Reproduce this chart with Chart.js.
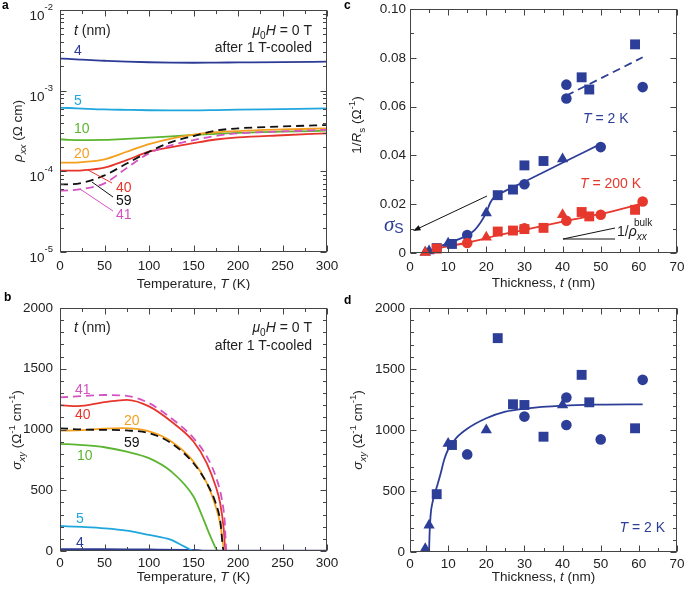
<!DOCTYPE html>
<html><head><meta charset="utf-8">
<script src="https://cdn.jsdelivr.net/npm/chart.js@4/dist/chart.umd.min.js"></script>
<style>
html,body{margin:0;padding:0;background:#fff;width:685px;height:589px;overflow:hidden}
canvas{position:absolute}
</style></head><body>
<canvas id="ca" style="left:0;top:0" width="340" height="290"></canvas>
<canvas id="cb" style="left:0;top:290px" width="340" height="299"></canvas>
<canvas id="cc" style="left:340px;top:0" width="345" height="290"></canvas>
<canvas id="cd" style="left:340px;top:290px" width="345" height="299"></canvas>
<script>
// ---------- Panel a: rho_xx vs T (log) ----------
const tempA   = [0, 10, 25, 50, 75, 100, 125, 150, 175, 200, 250, 300];
const rhoA_4  = [2.50e-3, 2.48e-3, 2.42e-3, 2.35e-3, 2.29e-3, 2.25e-3, 2.23e-3, 2.22e-3, 2.23e-3, 2.24e-3, 2.26e-3, 2.29e-3];
const rhoA_5  = [6.15e-4, 6.10e-4, 6.00e-4, 5.85e-4, 5.78e-4, 5.72e-4, 5.70e-4, 5.70e-4, 5.75e-4, 5.82e-4, 5.92e-4, 6.04e-4];
const rhoA_10 = [2.49e-4, 2.46e-4, 2.44e-4, 2.45e-4, 2.52e-4, 2.62e-4, 2.72e-4, 2.82e-4, 2.92e-4, 3.00e-4, 3.10e-4, 3.19e-4];
const rhoA_20 = [1.28e-4, 1.28e-4, 1.30e-4, 1.41e-4, 1.75e-4, 2.18e-4, 2.55e-4, 2.85e-4, 3.05e-4, 3.16e-4, 3.30e-4, 3.41e-4];
const rhoA_40 = [1.02e-4, 1.02e-4, 1.03e-4, 1.11e-4, 1.38e-4, 1.75e-4, 2.00e-4, 2.24e-4, 2.48e-4, 2.64e-4, 2.80e-4, 2.96e-4];
const rhoA_59 = [6.9e-5, 6.9e-5, 7.2e-5, 8.9e-5, 1.25e-4, 1.75e-4, 2.30e-4, 2.74e-4, 3.20e-4, 3.41e-4, 3.60e-4, 3.75e-4];
const rhoA_41 = [5.75e-5, 5.8e-5, 6.04e-5, 7.1e-5, 1.10e-4, 1.67e-4, 2.10e-4, 2.44e-4, 2.75e-4, 2.96e-4, 3.12e-4, 3.28e-4];
const logTickExps = [-2, -3, -4, -5];

// ---------- Panel b: sigma_xy vs T ----------
const sigT_41 = [0, 25, 50, 75, 100, 125, 150, 165, 175, 182, 185, 187, 300];
const sig_41  = [1264, 1275, 1284, 1277, 1217, 1093, 929, 777, 613, 420, 250, 0, 0];
const sigT_40 = [0, 20, 50, 75, 100, 125, 150, 165, 175, 180, 184, 186, 300];
const sig_40  = [1200, 1192, 1225, 1244, 1190, 1066, 901, 722, 530, 393, 180, 0, 0];
const sigT_20 = [0, 25, 50, 70, 100, 125, 150, 165, 175, 180, 185, 300];
const sig_20  = [990, 995, 1008, 1011, 984, 901, 736, 558, 365, 228, 0, 0];
const sigT_59 = [0, 25, 50, 75, 100, 125, 150, 165, 175, 180, 184, 300];
const sig_59  = [1010, 1000, 997, 992, 970, 887, 722, 558, 393, 250, 0, 0];
const sigT_10 = [0, 25, 50, 75, 100, 125, 150, 160, 170, 178, 300];
const sig_10  = [882, 872, 854, 818, 764, 654, 448, 283, 104, 0, 0];
const sigT_5  = [0, 25, 50, 75, 100, 125, 140, 152, 300];
const sig_5   = [206, 198, 187, 168, 132, 91, 36, 0, 0];
const sigT_4  = [0, 50, 100, 150, 160, 300];
const sig_4   = [12, 11, 9, 6, 0, 0];

// ---------- Panel c: 1/Rs vs thickness ----------
const cBlueSqT  = [7, 11, 23, 27, 30, 35, 45, 47, 59];
const cBlueSqV  = [0.002, 0.0037, 0.0237, 0.026, 0.0359, 0.0377, 0.072, 0.067, 0.0855];
const cBlueCirT = [15, 30, 41, 41, 50, 61];
const cBlueCirV = [0.0074, 0.0282, 0.069, 0.0633, 0.0434, 0.068];
const cBlueTriT = [4, 5, 10, 20, 40];
const cBlueTriV = [0.0003, 0.0008, 0.004, 0.0164, 0.0385];
const cRedSqT   = [7, 23, 27, 30, 35, 45, 47, 59];
const cRedSqV   = [0.0018, 0.0088, 0.0092, 0.0098, 0.0103, 0.0168, 0.015, 0.0177];
const cRedCirT  = [15, 30, 41, 50, 61];
const cRedCirV  = [0.0041, 0.0101, 0.0132, 0.0157, 0.0211];
const cRedTriT  = [4, 20, 40];
const cRedTriV  = [0.0002, 0.0065, 0.0157];
const cBlueFitT = [4, 7, 10, 13, 15, 17, 18.5, 20, 21, 22, 23, 30, 40, 50];
const cBlueFitV = [0.0, 0.0022, 0.004, 0.0058, 0.0072, 0.0095, 0.0125, 0.0165, 0.0205, 0.0228, 0.0238, 0.0292, 0.037, 0.0447];
const cBlueDashT = [41, 61];
const cBlueDashV = [0.0645, 0.0802];
const cRedFitT  = [3, 7, 15, 23, 30, 41, 50, 61];
const cRedFitV  = [0.0, 0.0018, 0.0042, 0.0072, 0.0095, 0.0132, 0.016, 0.0203];

// ---------- Panel d: sigma_xy vs thickness ----------
const dTriT = [4, 5, 10, 20, 40];
const dTriV = [27, 219, 890, 1000, 1205];
const dSqT  = [7, 11, 23, 27, 30, 35, 45, 47, 59];
const dSqV  = [474, 877, 1753, 1211, 1205, 945, 1452, 1227, 1014];
const dCirT = [15, 30, 41, 41, 50, 61];
const dCirV = [800, 1110, 1266, 1041, 923, 1411];
const dFitT = [5, 5.1, 5.4, 6, 7, 8, 9, 10, 12, 15, 20, 25, 30, 40, 50, 61];
const dFitV = [0, 120, 300, 420, 530, 640, 760, 840, 930, 1010, 1096, 1150, 1175, 1200, 1208, 1210];

// ---------- styling ----------
const FAM = '"Liberation Sans", Arial, Helvetica, sans-serif';
const SERIF = '"Liberation Serif", "Times New Roman", serif';
const TXT = '#222';
const C4 = '#2c3b95', C5 = '#1fa6dd', C10 = '#5cb531', C20 = '#f59f1f', C40 = '#e7352c', C59 = '#111', C41 = '#d552c3';
const BLUE = '#2d3e98', RED = '#e6382d';

function pts(xs, ys){ return xs.map((x, i) => ({x: x, y: ys[i]})); }
function lineDS(xs, ys, color, dash, order, width){
  return {data: pts(xs, ys), showLine: true, borderColor: color, borderWidth: width || 1.8,
    borderDash: dash ? [8, 5] : [], pointRadius: 0, cubicInterpolationMode: 'monotone', order: order, fill: false};
}
function markDS(xs, ys, color, style, r, order){
  return {data: pts(xs, ys), showLine: false, pointStyle: style, pointRadius: r, pointBackgroundColor: color,
    pointBorderColor: color, pointBorderWidth: 0, order: order, clip: false};
}

function rich(ctx, parts, x, y, align, size, color){
  ctx.save();
  ctx.fillStyle = color; ctx.textBaseline = 'alphabetic';
  const font = p => { const s = p.size || ((p.sub || p.sup) ? size * 0.72 : size);
    return (p.i ? 'italic ' : '') + (p.b ? 'bold ' : '') + s + 'px ' + (p.serif ? SERIF : FAM); };
  let w = 0;
  parts.forEach(p => { ctx.font = font(p); p._w = ctx.measureText(p.t).width; w += p._w; });
  let cx = align === 'center' ? x - w / 2 : (align === 'right' ? x - w : x);
  const base = y + size * 0.36;
  parts.forEach(p => { ctx.font = font(p);
    const dy = (p.sub ? size * 0.28 : (p.sup ? -size * 0.42 : 0)) + (p.dy || 0);
    ctx.fillText(p.t, cx, base + dy); cx += p._w; });
  ctx.restore();
}
function line(ctx, x1, y1, x2, y2, color, w){
  ctx.save(); ctx.strokeStyle = color; ctx.lineWidth = w || 1; ctx.beginPath();
  ctx.moveTo(x1, y1); ctx.lineTo(x2, y2); ctx.stroke(); ctx.restore();
}
function vtitle(ctx, parts, x, y, size){
  ctx.save(); ctx.translate(x, y); ctx.rotate(-Math.PI / 2);
  rich(ctx, parts, 0, 0, 'center', size, TXT); ctx.restore();
}

function range(a, b, s){ const r = []; for (let v = a; v <= b + 1e-9; v += s) r.push(+v.toFixed(6)); return r; }

function frameTicks(cfg){
  return {id: 'frameTicks', afterDatasetsDraw(chart){
    const ctx = chart.ctx, a = chart.chartArea, sx = chart.scales.x, sy = chart.scales.y;
    ctx.save(); ctx.strokeStyle = '#444'; ctx.lineWidth = 1;
    const L = Math.round(a.left) + 0.5, R = Math.round(a.right) - 0.5, T = Math.round(a.top) + 0.5, B = Math.round(a.bottom) - 0.5;
    ctx.beginPath();
    const tx = (vals, len) => vals.forEach(v => { const p = Math.round(sx.getPixelForValue(v)) + 0.5;
      if (p < L - 1 || p > R + 1) return;
      ctx.moveTo(p, B); ctx.lineTo(p, B - len); ctx.moveTo(p, T); ctx.lineTo(p, T + len); });
    const ty = (vals, len) => vals.forEach(v => { const p = Math.round(sy.getPixelForValue(v)) + 0.5;
      if (p < T - 1 || p > B + 1) return;
      ctx.moveTo(L, p); ctx.lineTo(L + len, p); ctx.moveTo(R, p); ctx.lineTo(R - len, p); });
    tx(cfg.xMajor, 6); tx(cfg.xMinor, 3.5); ty(cfg.yMajor, 6); ty(cfg.yMinor, 3.5);
    ctx.stroke();
    ctx.strokeRect(L, T, R - L, B - T);
    ctx.restore();
  }};
}

function makeChart(id, off, size, area, xCfg, yCfg, datasets, frameCfg, annot){
  const tickFont = {family: FAM, size: 13.5};
  const x = Object.assign({type: 'linear', position: 'bottom'}, xCfg);
  x.grid = {display: false, drawTicks: false};
  x.border = {display: false};
  x.afterFit = s => { s.height = size.h - (area.b - off.y); s.paddingLeft = 0; s.paddingRight = 0; };
  x.ticks = Object.assign({font: tickFont, color: TXT, padding: 6, autoSkip: false, maxRotation: 0, callback: v => String(v)}, xCfg.ticks || {});
  const y = Object.assign({position: 'left'}, yCfg);
  y.grid = {display: false, drawTicks: false};
  y.border = {display: false};
  y.afterFit = s => { s.width = area.l - off.x; s.paddingTop = 0; s.paddingBottom = 0; };
  y.ticks = Object.assign({font: tickFont, color: TXT, autoSkip: false, callback: v => String(v)}, yCfg.ticks || {});
  return new Chart(document.getElementById(id), {
    type: 'scatter',
    data: {datasets: datasets},
    options: {
      responsive: false, animation: false, devicePixelRatio: 1, events: [],
      layout: {padding: {left: 0, top: area.t - off.y, right: off.x + size.w - area.r, bottom: 0}},
      plugins: {legend: {display: false}, tooltip: {enabled: false}},
      scales: {x: x, y: y}
    },
    plugins: [frameTicks(frameCfg), {id: 'annot', afterDraw(chart){
      const ctx = chart.ctx; ctx.save(); ctx.translate(-off.x, -off.y); annot(ctx, chart); ctx.restore(); }}]
  });
}

function panelLetter(ctx, s, x, y){ rich(ctx, [{t: s, b: 1}], x, y, 'left', 12, '#000'); }

// ---------- Panel a ----------
makeChart('ca', {x: 0, y: 0}, {w: 340, h: 290}, {l: 60, r: 327, t: 10, b: 252},
  {min: 0, max: 300, ticks: {stepSize: 50}},
  {type: 'logarithmic', min: 1e-5, max: 1e-2, ticks: {display: false}},
  [
    lineDS(tempA, rhoA_59, C59, true, 0),
    lineDS(tempA, rhoA_41, C41, true, 1),
    lineDS(tempA, rhoA_40, C40, false, 2),
    lineDS(tempA, rhoA_20, C20, false, 3),
    lineDS(tempA, rhoA_10, C10, false, 4),
    lineDS(tempA, rhoA_5, C5, false, 5),
    lineDS(tempA, rhoA_4, C4, false, 6)
  ],
  {xMajor: range(0, 300, 50), xMinor: range(25, 275, 50),
   yMajor: logTickExps.map(e => Math.pow(10, e)),
   yMinor: [-5, -4, -3].flatMap(e => [2,3,4,5,6,7,8,9].map(m => m * Math.pow(10, e)))},
  (ctx, chart) => {
    panelLetter(ctx, 'a', 2, 5);
    const sy = chart.scales.y;
    logTickExps.forEach(e => {
      const py = sy.getPixelForValue(Math.pow(10, e));
      ctx.save(); ctx.font = '9.5px ' + FAM; const sw = ctx.measureText(String(e)).width; ctx.restore();
      rich(ctx, [{t: '10'}], 53 - sw, py + 5, 'right', 13.5, TXT);
      rich(ctx, [{t: String(e), size: 9.5}], 53 - sw, py - 3, 'left', 9.5, TXT);
    });
    vtitle(ctx, [{t: 'ρ', i: 1}, {t: 'xx', i: 1, sub: 1}, {t: ' (Ω cm)'}], 17, 131, 13.5);
    rich(ctx, [{t: 'Temperature, '}, {t: 'T', i: 1}, {t: ' (K)'}], 193.5, 283, 'center', 13.5, TXT);
    rich(ctx, [{t: 't', i: 1}, {t: ' (nm)'}], 74, 30, 'left', 14, TXT);
    rich(ctx, [{t: 'μ', i: 1}, {t: '0', sub: 1}, {t: 'H', i: 1}, {t: ' = 0 T'}], 312, 30, 'right', 14, TXT);
    rich(ctx, [{t: 'after 1 T-cooled'}], 312, 47, 'right', 14, TXT);
    rich(ctx, [{t: '4'}], 74, 50, 'left', 14, C4);
    rich(ctx, [{t: '5'}], 74, 100, 'left', 14, C5);
    rich(ctx, [{t: '10'}], 74, 128, 'left', 14, C10);
    rich(ctx, [{t: '20'}], 74, 153, 'left', 14, C20);
    line(ctx, 88, 170, 112, 183, C40); rich(ctx, [{t: '40'}], 116, 187, 'left', 14, C40);
    line(ctx, 92, 182, 113, 197, C59); rich(ctx, [{t: '59'}], 116, 200, 'left', 14, C59);
    line(ctx, 80, 189, 113, 211, C41); rich(ctx, [{t: '41'}], 116, 214, 'left', 14, C41);
  });

// ---------- Panel b ----------
makeChart('cb', {x: 0, y: 290}, {w: 340, h: 299}, {l: 60, r: 327, t: 308, b: 551},
  {min: 0, max: 300, ticks: {stepSize: 50, padding: 4}},
  {type: 'linear', min: 0, max: 2000, ticks: {stepSize: 500, padding: 7}},
  [
    lineDS(sigT_10, sig_10, C10, false, 0),
    lineDS(sigT_59, sig_59, C59, true, 1),
    lineDS(sigT_41, sig_41, C41, true, 2),
    lineDS(sigT_40, sig_40, C40, false, 3),
    lineDS(sigT_20, sig_20, C20, false, 4),
    lineDS(sigT_5, sig_5, C5, false, 5),
    lineDS(sigT_4, sig_4, C4, false, 6, 2.6)
  ],
  {xMajor: range(0, 300, 50), xMinor: range(25, 275, 50), yMajor: range(0, 2000, 500), yMinor: range(100, 1900, 100)},
  (ctx) => {
    panelLetter(ctx, 'b', 4, 297);
    vtitle(ctx, [{t: 'σ', i: 1}, {t: 'xy', i: 1, sub: 1}, {t: ' (Ω'}, {t: '-1', sup: 1}, {t: ' cm'}, {t: '-1', sup: 1}, {t: ')'}], 16, 430, 13.5);
    rich(ctx, [{t: 'Temperature, '}, {t: 'T', i: 1}, {t: ' (K)'}], 193.5, 576, 'center', 13.5, TXT);
    rich(ctx, [{t: 't', i: 1}, {t: ' (nm)'}], 74, 327, 'left', 14, TXT);
    rich(ctx, [{t: 'μ', i: 1}, {t: '0', sub: 1}, {t: 'H', i: 1}, {t: ' = 0 T'}], 312, 327, 'right', 14, TXT);
    rich(ctx, [{t: 'after 1 T-cooled'}], 312, 345, 'right', 14, TXT);
    rich(ctx, [{t: '41'}], 75, 389, 'left', 14, C41);
    rich(ctx, [{t: '40'}], 75, 414, 'left', 14, C40);
    rich(ctx, [{t: '20'}], 124, 420, 'left', 14, C20);
    rich(ctx, [{t: '59'}], 124, 442, 'left', 14, C59);
    rich(ctx, [{t: '10'}], 77, 455, 'left', 14, C10);
    rich(ctx, [{t: '5'}], 76, 518, 'left', 14, C5);
    rich(ctx, [{t: '4'}], 76, 542, 'left', 14, C4);
  });

// ---------- Panel c ----------
makeChart('cc', {x: 340, y: 0}, {w: 345, h: 290}, {l: 410, r: 677, t: 9, b: 253},
  {min: 0, max: 70, ticks: {stepSize: 10}},
  {type: 'linear', min: 0, max: 0.1, ticks: {stepSize: 0.02, padding: 4, callback: v => v === 0 ? '0' : v.toFixed(2)}},
  [
    markDS(cRedSqT, cRedSqV, RED, 'rect', 7, 0),
    markDS(cRedCirT, cRedCirV, RED, 'circle', 5.3, 1),
    markDS(cRedTriT, cRedTriV, RED, 'triangle', 6.5, 2),
    markDS(cBlueSqT, cBlueSqV, BLUE, 'rect', 7, 3),
    markDS(cBlueCirT, cBlueCirV, BLUE, 'circle', 5.3, 4),
    markDS(cBlueTriT, cBlueTriV, BLUE, 'triangle', 6.5, 5),
    lineDS(cRedFitT, cRedFitV, RED, false, 6),
    lineDS(cBlueFitT, cBlueFitV, BLUE, false, 7),
    lineDS(cBlueDashT, cBlueDashV, BLUE, true, 8)
  ],
  {xMajor: range(0, 70, 10), xMinor: range(5, 65, 10), yMajor: range(0, 0.1, 0.02), yMinor: range(0.01, 0.09, 0.02)},
  (ctx) => {
    panelLetter(ctx, 'c', 344, 5);
    vtitle(ctx, [{t: '1/'}, {t: 'R', i: 1}, {t: 's', sub: 1}, {t: ' (Ω'}, {t: '-1', sup: 1}, {t: ')'}], 356, 125, 13.5);
    rich(ctx, [{t: 'Thickness, '}, {t: 't', i: 1}, {t: ' (nm)'}], 543.5, 282, 'center', 13.5, TXT);
    rich(ctx, [{t: 'T', i: 1}, {t: ' = 2 K'}], 583, 118, 'left', 14, BLUE);
    rich(ctx, [{t: 'T', i: 1}, {t: ' = 200 K'}], 580, 183, 'left', 14, RED);
    line(ctx, 563, 239, 615, 228, '#111');
    line(ctx, 563, 239, 615, 239, '#111');
    rich(ctx, [{t: '1/'}, {t: 'ρ', i: 1}, {t: 'xx', i: 1, sub: 1}], 617, 231, 'left', 14, TXT);
    rich(ctx, [{t: 'bulk', size: 10}], 634, 222, 'left', 10, TXT);
    line(ctx, 487, 196, 415, 230, '#111');
    ctx.save(); ctx.fillStyle = '#111'; ctx.beginPath();
    const ang = Math.atan2(230 - 196, 415 - 487);
    ctx.moveTo(413, 231);
    ctx.lineTo(413 - 8 * Math.cos(ang - 0.35), 231 - 8 * Math.sin(ang - 0.35));
    ctx.lineTo(413 - 8 * Math.cos(ang + 0.35), 231 - 8 * Math.sin(ang + 0.35));
    ctx.closePath(); ctx.fill(); ctx.restore();
    rich(ctx, [{t: 'σ', i: 1, serif: 1, size: 21}, {t: 'S', size: 14, dy: 2}], 384, 226, 'left', 14, BLUE);
  });

// ---------- Panel d ----------
makeChart('cd', {x: 340, y: 290}, {w: 345, h: 299}, {l: 410, r: 677, t: 308, b: 552},
  {min: 0, max: 70, ticks: {stepSize: 10, padding: 4}},
  {type: 'linear', min: 0, max: 2000, ticks: {stepSize: 500, padding: 5}},
  [
    markDS(dSqT, dSqV, BLUE, 'rect', 7, 0),
    markDS(dCirT, dCirV, BLUE, 'circle', 5.3, 1),
    markDS(dTriT, dTriV, BLUE, 'triangle', 6.5, 2),
    lineDS(dFitT, dFitV, BLUE, false, 3)
  ],
  {xMajor: range(0, 70, 10), xMinor: range(5, 65, 10), yMajor: range(0, 2000, 500), yMinor: range(100, 1900, 100)},
  (ctx) => {
    panelLetter(ctx, 'd', 344, 300);
    vtitle(ctx, [{t: 'σ', i: 1}, {t: 'xy', i: 1, sub: 1}, {t: ' (Ω'}, {t: '-1', sup: 1}, {t: ' cm'}, {t: '-1', sup: 1}, {t: ')'}], 357, 430, 13.5);
    rich(ctx, [{t: 'Thickness, '}, {t: 't', i: 1}, {t: ' (nm)'}], 543.5, 576, 'center', 13.5, TXT);
    rich(ctx, [{t: 'T', i: 1}, {t: ' = 2 K'}], 665, 527, 'right', 14, BLUE);
  });
</script>
</body></html>
